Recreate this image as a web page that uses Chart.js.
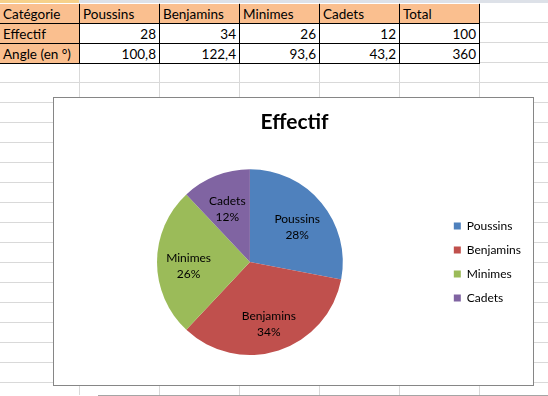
<!DOCTYPE html>
<html>
<head>
<meta charset="utf-8">
<script src="https://cdn.jsdelivr.net/npm/chart.js@4/dist/chart.umd.min.js"></script>
<style>
  body {
    margin: 0;
    width: 548px;
    height: 396px;
    overflow: hidden;
    background: #fff;
    font-family: Lato, "Open Sans", sans-serif;
  }
  #grid {
    position: absolute;
    left: 0;
    top: 3px;
    width: 548px;
    height: 392px;
    background-image:
      repeating-linear-gradient(to right, transparent 0 79px, #d9d9d9 79px 80px),
      repeating-linear-gradient(to bottom, transparent 0 19px, #d9d9d9 19px 20px);
  }
  #colband {
    position: absolute;
    left: 0;
    top: 0;
    width: 548px;
    height: 3px;
    background: #dde1e8;
  }
  #colband .sel {
    position: absolute;
    left: 0;
    top: 0;
    width: 79px;
    height: 3px;
    background: #f6d18b;
  }
  .cell {
    position: absolute;
    box-sizing: border-box;
    width: 80px;
    height: 20px;
    border-right: 1px solid #000;
    border-bottom: 1px solid #000;
    background: #fff;
    font-size: 13.5px;
    line-height: 20px;
    color: #000;
    padding: 0 3px;
    white-space: nowrap;
    overflow: hidden;
  }
  .cell.head { background: #fabf8f; }
  .cell.num { text-align: right; }
  #frame {
    position: absolute;
    left: 53px;
    top: 97px;
    width: 481px;
    height: 289px;
    box-sizing: border-box;
    border: 1px solid #868686;
    background: #fff;
  }
  #wrap {
    position: relative;
    width: 479px;
    height: 287px;
  }
  #bottomline {
    position: absolute;
    left: 98px;
    top: 395px;
    width: 450px;
    height: 1px;
    background: #a5a5a5;
  }
</style>
</head>
<body>
<div id="grid"></div>
<div id="colband"><div class="sel"></div></div>
<div id="sheet"></div>
<div id="frame"><div id="wrap"><canvas id="myChart"></canvas></div></div>
<div id="bottomline"></div>
<script>
const rowLabels = ["Catégorie", "Effectif", "Angle (en °)"];
const categories = ["Poussins", "Benjamins", "Minimes", "Cadets"];
const effectif = [28, 34, 26, 12];
const angles = [100.8, 122.4, 93.6, 43.2];
const totalLabel = "Total";
const totalEffectif = 100;
const totalAngle = 360;
const sliceColors = ["#4f81bd", "#c0504d", "#9bbb59", "#8064a2"];

function fmt(v) {
  return String(v).replace(".", ",");
}

function buildSheet() {
  const sheet = document.getElementById("sheet");
  const rows = [
    [rowLabels[0], ...categories, totalLabel],
    [rowLabels[1], ...effectif, totalEffectif],
    [rowLabels[2], ...angles, totalAngle],
  ];
  rows.forEach((row, r) => {
    row.forEach((val, c) => {
      const cell = document.createElement("div");
      cell.className = "cell";
      if (r === 0 || c === 0) cell.classList.add("head");
      if (r > 0 && c > 0) cell.classList.add("num");
      cell.style.left = c * 80 + "px";
      cell.style.top = 4 + r * 20 + "px";
      cell.textContent = typeof val === "number" ? fmt(val) : val;
      sheet.append(cell);
    });
  });
}

// labels inside the slices: name + percent
const sliceLabels = {
  id: "sliceLabels",
  afterDatasetsDraw(chart) {
    const ctx = chart.ctx;
    const data = chart.data.datasets[0].data;
    const total = data.reduce((a, b) => a + b, 0);
    const meta = chart.getDatasetMeta(0);
    ctx.save();
    ctx.font = "12px Lato";
    ctx.fillStyle = "#000";
    ctx.textAlign = "center";
    ctx.textBaseline = "middle";
    meta.data.forEach((arc, i) => {
      const { x, y, startAngle, endAngle, outerRadius } = arc.getProps(
        ["x", "y", "startAngle", "endAngle", "outerRadius"], true
      );
      const mid = (startAngle + endAngle) / 2;
      const r = outerRadius * 0.66;
      const px = x + Math.cos(mid) * r;
      const py = y + Math.sin(mid) * r + 4;
      ctx.fillText(chart.data.labels[i], px, py - 8);
      ctx.fillText(Math.round((data[i] / total) * 100) + "%", px, py + 8);
    });
    ctx.restore();
  },
};

function drawChart() {
  const ctx = document.getElementById("myChart");
  new Chart(ctx, {
    type: "pie",
    data: {
      labels: categories,
      datasets: [
        {
          data: effectif,
          backgroundColor: sliceColors,
          borderWidth: 0,
        },
      ],
    },
    options: {
      responsive: true,
      maintainAspectRatio: false,
      animation: false,
      layout: {
        padding: { left: 4, right: 2, top: 0, bottom: 30 },
      },
      plugins: {
        title: {
          display: true,
          text: "Effectif",
          color: "#000",
          font: { family: "Lato", size: 21, weight: "bold" },
          padding: { top: 12, bottom: 34 },
        },
        legend: {
          position: "right",
          // empty legend title only pushes the items down to the pie centre
          title: {
            display: true,
            text: " ",
            font: { size: 10 },
            padding: { top: 0, bottom: 59 },
          },
          labels: {
            color: "#000",
            boxWidth: 7,
            boxHeight: 7,
            padding: 12,
            font: { family: "Lato", size: 12 },
          },
        },
        tooltip: { enabled: false },
      },
    },
    plugins: [sliceLabels],
  });
}

buildSheet();
drawChart();
</script>
</body>
</html>
